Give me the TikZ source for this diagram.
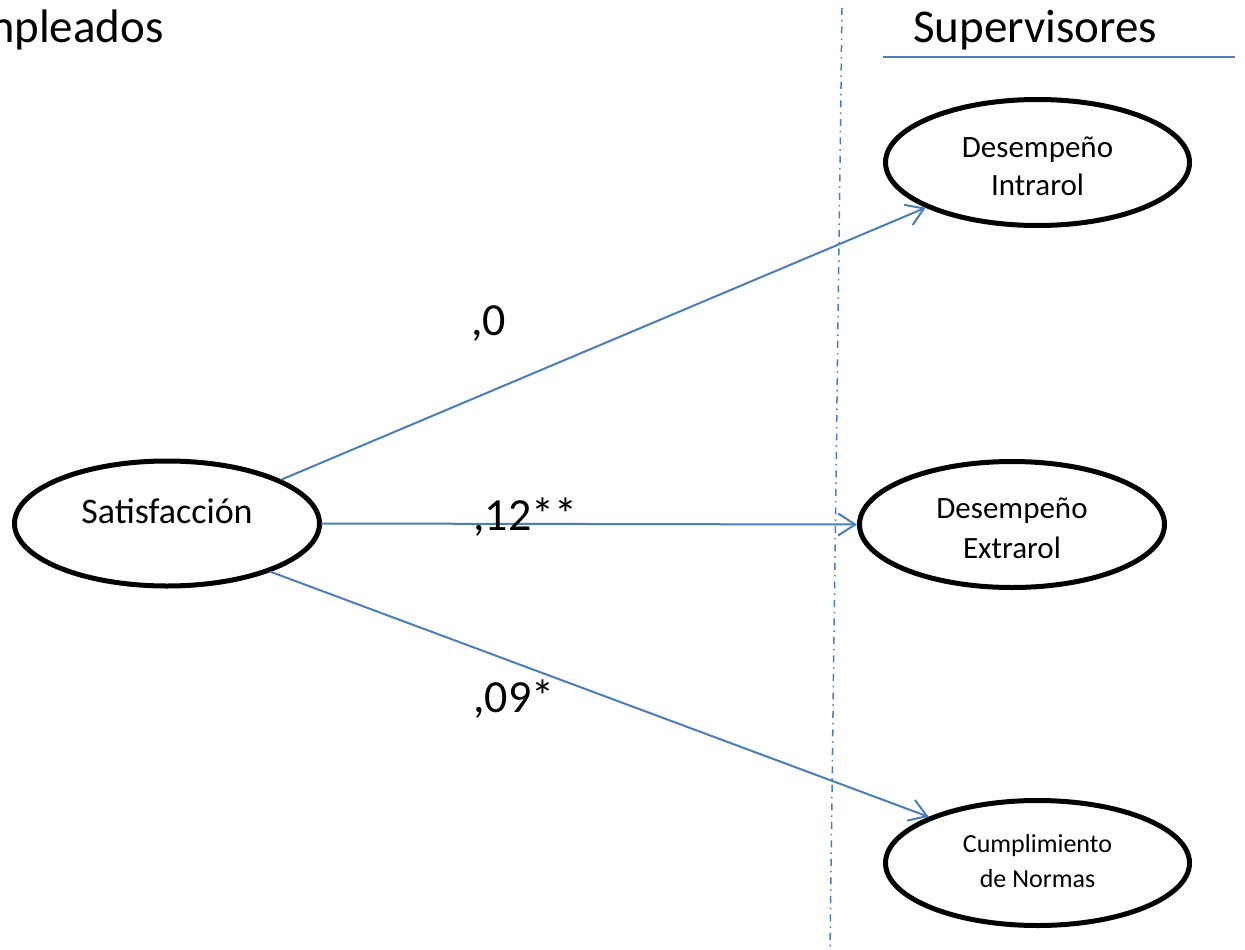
\documentclass[tikz,border=0pt]{standalone}
\usepackage{fontspec}
\setmainfont{Carlito}
\usetikzlibrary{arrows.meta,shapes.geometric}
\definecolor{lineblue}{HTML}{4A7EBB}
\newcommand{\intext}[2]{\smash{\raisebox{#1}{\begin{tabular}[t]{@{}c@{}}#2\end{tabular}}}}
\tikzset{
  ell/.style={ellipse, draw=black, line width=5pt, fill=white, inner sep=0pt,
    minimum width=305pt, minimum height=125pt},
  conn/.style={draw=lineblue, line width=2pt, line cap=round,
    -{Straight Barb[length=17pt,width=22pt]}},
  lab/.style={font=\fontsize{46}{55}\selectfont, inner sep=0pt, anchor=base west},
  head/.style={font=\fontsize{47}{56}\selectfont, inner sep=0pt},
}
\begin{document}
\begin{tikzpicture}[x=1pt,y=-1pt]
\fill[white] (0,0) rectangle (1245,950);
\useasboundingbox (0,0) rectangle (1245,950);

% headers
\node[head, anchor=base east] (emp) at (164,43) {Empleados};
\node[head, anchor=base west] (sup) at (913,43) {Supervisores};
\coordinate (ulA) at (883,57);
\coordinate (ulB) at (1235,57);
\draw[lineblue, line width=1.5pt] (ulA) -- (ulB);

% divider
\coordinate (divT) at (842,8);
\coordinate (divB) at (830,948);
\draw[lineblue, line width=1.5pt, dash pattern=on 7pt off 5pt on 1.5pt off 5pt] (divT) -- (divB);

% ellipses
\node[ell, font=\fontsize{36}{43}\selectfont] (sat) at (167,523.5) {\intext{0.5pt}{Satisfacción}};
\node[ell, minimum width=304pt, minimum height=126pt, font=\fontsize{31}{38}\selectfont] (intra) at (1037.5,162.5) {\intext{5.5pt}{Desempeño\\Intrarol}};
\node[ell, minimum height=126pt, font=\fontsize{31}{40}\selectfont] (extra) at (1012,524.5) {\intext{6.5pt}{Desempeño\\Extrarol}};
\node[ell, minimum width=304pt, font=\fontsize{26}{35}\selectfont] (cump) at (1037.5,863) {\intext{11pt}{Cumplimiento\\de Normas}};

% connectors
\draw[conn] (sat.21.9) -- (intra.202.2);
\draw[conn] (sat.east) -- (extra.west);
\draw[conn] (sat.335.8) -- (cump.157.3);

% labels
\node[lab] (l1) at (471,335) {,0};
\node[lab] (l2) at (473,530) {,12**};
\node[lab] (l3) at (473,712) {,09*};
\end{tikzpicture}
\end{document}
